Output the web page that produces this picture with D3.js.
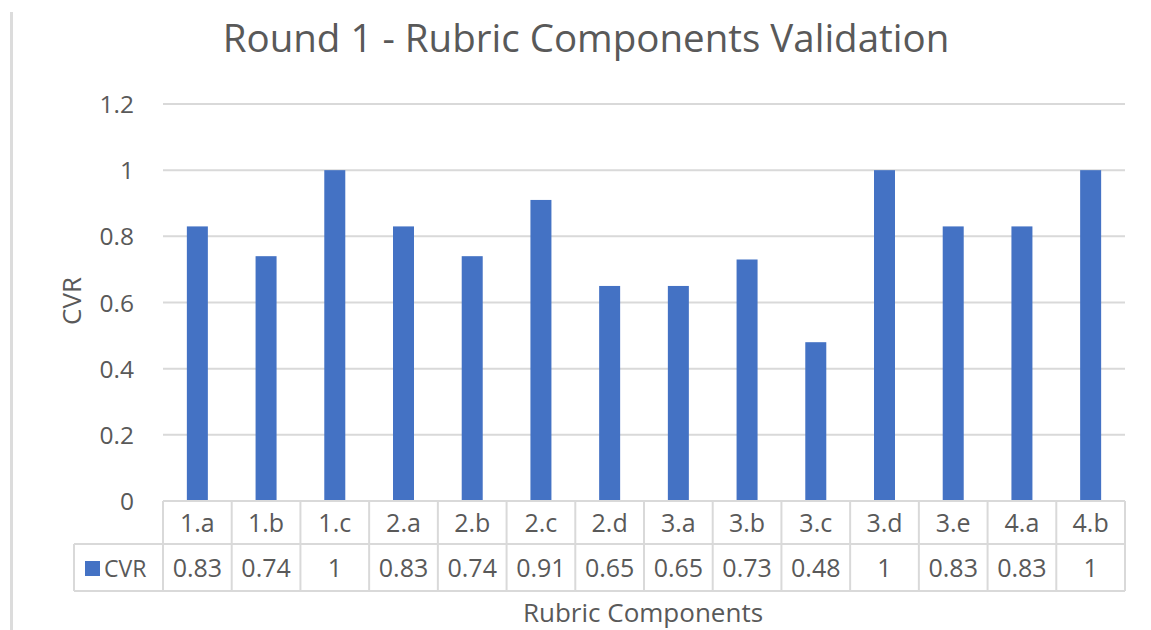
<html>
<head>
<style>
  body { margin: 0; background: #fff; }
  text { font-family: "Open Sans", "Noto Sans", sans-serif; fill: #595959; }
</style>
</head>
<body>
<svg width="1151" height="630"></svg>
<script src="https://cdn.jsdelivr.net/npm/d3@7/dist/d3.min.js"></script>
<script>
// data
var categories = ["1.a","1.b","1.c","2.a","2.b","2.c","2.d","3.a","3.b","3.c","3.d","3.e","4.a","4.b"];
var cvr = [0.83,0.74,1,0.83,0.74,0.91,0.65,0.65,0.73,0.48,1,0.83,0.83,1];
var yTicks = [0,0.2,0.4,0.6,0.8,1,1.2];
var seriesName = "CVR";

var svg = d3.select("svg"),
    plot = {left: 163, right: 1125, top: 104, bottom: 501},
    rowH = 43, row2H = 47;

var x = d3.scaleBand().domain(categories).range([plot.left, plot.right]).padding(0);
var y = d3.scaleLinear().domain([0, 1.2]).range([plot.bottom, plot.top]);
var barW = 21;
var blue = "#4472C4", grid = "#d9d9d9";

// left border line of the sheet
svg.append("rect").attr("x", 10).attr("y", 12).attr("width", 3).attr("height", 618).attr("fill", "#dcdcdc");

// title
svg.append("text").attr("x", 586).attr("y", 52).attr("text-anchor", "middle")
  .style("font-size", "38.5px").text("Round 1 - Rubric Components Validation");

// gridlines
svg.append("g").selectAll("line").data(yTicks.filter(function(d){return d>0;})).enter()
  .append("line")
  .attr("x1", plot.left).attr("x2", plot.right)
  .attr("y1", function(d){return y(d);}).attr("y2", function(d){return y(d);})
  .attr("stroke", grid).attr("stroke-width", 2);

// y tick labels
svg.append("g").selectAll("text").data(yTicks).enter()
  .append("text")
  .attr("x", 134).attr("y", function(d){return y(d) + 9;})
  .attr("text-anchor", "end").style("font-size", "24.5px")
  .text(function(d){return d;});

// y axis title
svg.append("text").attr("transform", "translate(81,301) rotate(-90)")
  .attr("text-anchor", "middle").style("font-size", "26px").text("CVR");

// bars
svg.append("g").selectAll("rect").data(cvr).enter()
  .append("rect")
  .attr("x", function(d,i){return x(categories[i]) + x.bandwidth()/2 - barW/2;})
  .attr("y", function(d){return y(d);})
  .attr("width", barW)
  .attr("height", function(d){return y(0) - y(d);})
  .attr("fill", blue);

// data table
var tb = svg.append("g");
var r1 = plot.bottom, r2 = plot.bottom + rowH, r3 = r2 + row2H;
var legendLeft = 74;
tb.append("line").attr("x1", plot.left).attr("x2", plot.right).attr("y1", r1).attr("y2", r1);
tb.append("line").attr("x1", legendLeft).attr("x2", plot.right).attr("y1", r2).attr("y2", r2);
tb.append("line").attr("x1", legendLeft).attr("x2", plot.right).attr("y1", r3).attr("y2", r3);
tb.append("line").attr("x1", legendLeft).attr("x2", legendLeft).attr("y1", r2).attr("y2", r3);
var edges = categories.map(function(c){return x(c);}).concat([plot.right]);
tb.selectAll("line.v").data(edges).enter().append("line").attr("class", "v")
  .attr("x1", function(d){return d;}).attr("x2", function(d){return d;})
  .attr("y1", r1).attr("y2", r3);
tb.selectAll("line").attr("stroke", grid).attr("stroke-width", 2);

tb.selectAll("text.cat").data(categories).enter().append("text").attr("class", "cat")
  .attr("x", function(d){return x(d) + x.bandwidth()/2;})
  .attr("y", 532).attr("text-anchor", "middle").style("font-size", "25px")
  .text(function(d){return d;});
tb.selectAll("text.val").data(cvr).enter().append("text").attr("class", "val")
  .attr("x", function(d,i){return x(categories[i]) + x.bandwidth()/2;})
  .attr("y", 577).attr("text-anchor", "middle").style("font-size", "25px")
  .text(function(d){return d;});

// legend key in table
tb.append("rect").attr("x", 85).attr("y", 561).attr("width", 15).attr("height", 15).attr("fill", blue);
tb.append("text").attr("x", 104).attr("y", 577).style("font-size", "23px").text(seriesName);

// x axis title
svg.append("text").attr("x", 643).attr("y", 622).attr("text-anchor", "middle")
  .style("font-size", "26px").text("Rubric Components");
</script>
</body>
</html>
